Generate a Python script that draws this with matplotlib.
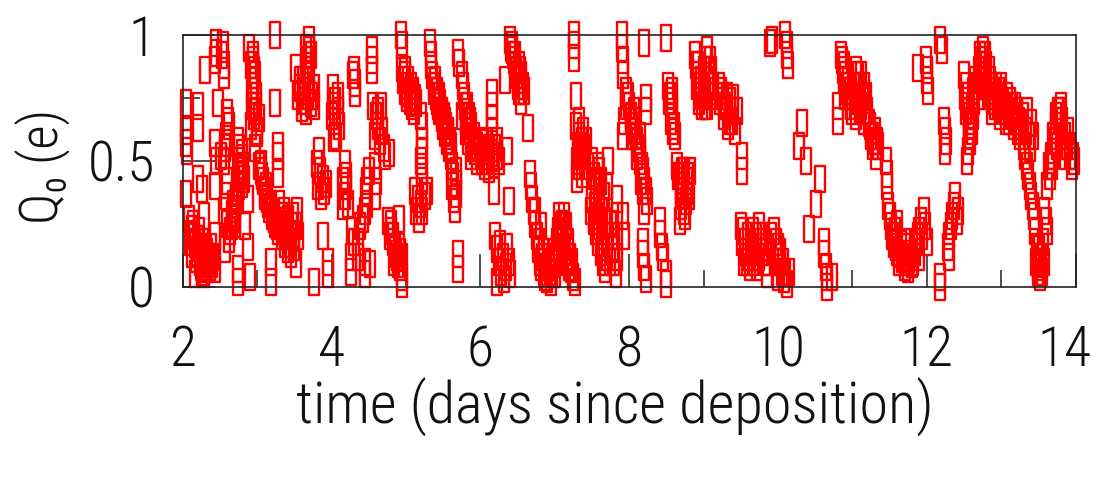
import numpy as np
import matplotlib.pyplot as plt
from matplotlib.path import Path
from matplotlib.ticker import MultipleLocator, FixedLocator
from matplotlib.transforms import ScaledTranslation

plt.rcParams['font.family'] = ['Roboto Condensed', 'DejaVu Sans']
plt.rcParams['font.weight'] = 'light'
plt.rcParams['axes.labelweight'] = 'light'
plt.rcParams['font.stretch'] = 'condensed'

# (time in days, Q0 in e), grouped by time span
pts_2_4 = [
    (2.05,0.73),(2.20,0.72),(2.20,0.63),(2.05,0.62),(2.05,0.57),(2.06,0.54),(2.05,0.37),
    (2.20,0.43),(2.26,0.39),(2.43,0.40),(2.28,0.28),(2.43,0.20),(2.57,0.15),
    (2.08,0.27),(2.12,0.23),(2.10,0.18),(2.15,0.20),(2.20,0.16),(2.25,0.13),(2.30,0.10),
    (2.32,0.07),(2.28,0.05),(2.36,0.08),(2.40,0.12),(2.38,0.16),(2.22,0.22),(2.18,0.11),
    (2.25,0.08),(2.17,0.05),(2.43,0.07),(2.14,0.25),(2.27,0.18),(2.33,0.14),(2.21,0.19),(2.35,0.11),
    (2.11,0.21),(2.19,0.14),(2.23,0.10),(2.29,0.12),(2.34,0.09),(2.31,0.16),(2.16,0.17),(2.26,0.06),
    (2.39,0.09),(2.13,0.13),
    (2.44,0.97),(2.54,0.96),(2.43,0.90),(2.55,0.88),(2.55,0.84),(2.30,0.86),(2.45,0.93),(2.53,0.92),
    (2.89,0.95),(2.92,0.88),(2.97,0.84),(2.95,0.80),(2.98,0.76),(2.93,0.72),(2.96,0.68),(2.92,0.64),
    (3.00,0.62),(2.97,0.55),(3.03,0.67),(3.00,0.61),(2.94,0.90),(2.96,0.86),(2.93,0.78),(2.99,0.72),
    (2.95,0.92),(2.94,0.82),(2.97,0.70),(2.95,0.74),
    (3.24,1.00),(3.24,0.73),
    (3.70,0.98),(3.70,0.94),(3.68,0.90),(3.66,0.86),(3.62,0.82),(3.58,0.79),(3.55,0.76),(3.62,0.74),
    (3.66,0.70),(3.72,0.73),(3.70,0.80),(3.52,0.87),(3.76,0.79),(3.76,0.72),(3.60,0.71),(3.72,0.92),
    (3.64,0.78),(3.68,0.76),(3.66,0.95),(3.68,0.82),(3.64,0.74),(3.70,0.86),(3.74,0.76),(3.57,0.82),
    (2.47,0.73),(2.60,0.69),(2.62,0.64),(2.58,0.60),(2.57,0.55),(2.55,0.50),(2.52,0.52),(2.43,0.57),
    (2.45,0.50),(2.61,0.66),(2.59,0.57),
    (2.74,0.58),(2.76,0.55),(2.80,0.51),(2.78,0.47),(2.82,0.43),(2.75,0.40),(2.72,0.36),(2.68,0.33),
    (2.66,0.29),(2.70,0.25),(2.64,0.22),(2.62,0.19),(2.79,0.53),(2.81,0.48),(2.77,0.44),(2.73,0.38),
    (2.70,0.31),(2.60,0.42),(2.58,0.36),(2.56,0.30),(2.60,0.25),(2.87,0.35),(2.84,0.24),
    (2.76,0.50),(2.74,0.46),(2.79,0.41),(2.71,0.34),(2.68,0.27),(2.66,0.24),
    (2.74,0.02),(2.74,0.07),(2.90,0.04),(2.88,0.16),
    (3.05,0.49),(3.05,0.46),(3.08,0.42),(3.10,0.38),(3.13,0.35),(3.16,0.31),(3.20,0.28),(3.24,0.25),
    (3.28,0.22),(3.33,0.20),(3.38,0.17),(3.42,0.15),(3.45,0.13),(3.07,0.44),(3.12,0.40),(3.18,0.33),
    (3.22,0.27),(3.30,0.33),(3.36,0.30),(3.42,0.27),(3.48,0.28),(3.52,0.24),(3.55,0.20),(3.50,0.16),
    (3.45,0.20),(3.33,0.28),(3.40,0.23),(3.47,0.24),(3.53,0.30),
    (3.03,0.48),(3.10,0.36),(3.15,0.33),(3.20,0.30),(3.26,0.24),(3.31,0.25),(3.35,0.22),(3.39,0.20),
    (3.44,0.17),(3.49,0.21),(3.38,0.26),
    (3.28,0.56),(3.28,0.52),(3.28,0.45),(3.52,0.09),(3.18,0.10),(3.18,0.02),(3.76,0.02),
    (3.83,0.54),(3.80,0.49),(3.84,0.46),(3.88,0.43),(3.82,0.40),(3.90,0.38),(3.86,0.36),(3.93,0.41),
    (3.88,0.20),(3.95,0.10),(3.95,0.05),
]

pts_4_6 = [
    (4.02,0.79),(4.05,0.74),(4.08,0.70),(4.05,0.66),(4.00,0.68),(4.10,0.64),(4.06,0.60),(4.03,0.59),
    (4.02,0.72),(4.09,0.76),
    (4.30,0.86),(4.31,0.81),(4.31,0.77),(4.29,0.84),
    (4.54,0.94),(4.54,0.90),(4.54,0.86),
    (4.93,1.00),(4.95,0.96),
    (4.95,0.87),(4.98,0.84),(5.00,0.80),(5.05,0.78),(5.10,0.76),(5.13,0.73),(5.08,0.72),(5.02,0.75),
    (4.98,0.78),(4.96,0.82),(5.03,0.82),(5.07,0.80),(5.11,0.70),
    (4.99,0.86),(5.01,0.77),(5.06,0.74),(5.09,0.78),(5.12,0.75),
    (5.32,0.97),(5.33,0.92),(5.34,0.88),
    (5.35,0.84),(5.38,0.80),(5.40,0.76),(5.43,0.72),(5.45,0.70),(5.48,0.67),(5.50,0.64),(5.53,0.61),
    (5.55,0.58),(5.58,0.55),(5.60,0.52),(5.62,0.48),(5.63,0.44),(5.37,0.78),(5.42,0.74),(5.47,0.70),
    (5.52,0.66),(5.57,0.60),(5.61,0.56),
    (5.39,0.82),(5.41,0.78),(5.44,0.76),(5.46,0.73),(5.49,0.70),(5.51,0.68),(5.54,0.64),(5.56,0.62),
    (5.59,0.58),
    (5.67,0.46),(5.67,0.41),(5.67,0.37),(5.62,0.40),(5.64,0.35),(5.66,0.31),
    (5.70,0.13),(5.70,0.07),(5.70,0.93),(5.71,0.89),
    (5.78,0.76),(5.82,0.72),(5.85,0.68),(5.88,0.64),(5.92,0.60),(5.95,0.56),(5.90,0.55),(5.80,0.62),
    (5.75,0.68),(5.75,0.84),(5.77,0.80),(5.84,0.58),(5.88,0.52),(5.96,0.50),(5.86,0.62),(5.80,0.66),
    (5.82,0.68),(5.86,0.66),(5.90,0.58),(5.93,0.54),(5.79,0.72),(5.83,0.64),
    (4.55,0.72),(4.60,0.68),(4.66,0.72),(4.62,0.64),(4.58,0.60),(4.65,0.58),(4.70,0.55),(4.72,0.52),
    (4.77,0.53),(4.63,0.70),(4.68,0.62),
    (4.58,0.48),(4.60,0.42),(4.58,0.36),
    (4.50,0.46),(4.48,0.42),(4.46,0.38),(4.48,0.33),(4.45,0.30),(4.42,0.27),
    (4.18,0.49),(4.15,0.42),(4.20,0.40),(4.18,0.36),(4.22,0.33),(4.15,0.32),(4.20,0.44),
    (4.28,0.22),(4.30,0.18),(4.26,0.12),(4.26,0.06),(4.38,0.24),(4.36,0.18),(4.36,0.12),(4.45,0.10),
    (4.45,0.05),(4.51,0.09),
    (4.76,0.26),(4.80,0.22),(4.82,0.18),(4.85,0.15),(4.88,0.12),(4.92,0.08),(4.95,0.04),(4.95,0.01),
    (4.90,0.27),(4.78,0.20),(4.84,0.10),(4.90,0.16),(4.94,0.12),
    (4.80,0.25),(4.83,0.20),(4.86,0.13),(4.89,0.09),(4.92,0.14),
    (5.12,0.38),(5.16,0.35),(5.20,0.33),(5.25,0.36),(5.28,0.38),(5.22,0.30),(5.14,0.30),(5.18,0.27),
    (5.20,0.68),(5.21,0.64),(5.21,0.58),(5.22,0.54),(5.20,0.50),(5.22,0.46),(5.22,0.42),
]

pts_6_8 = [
    (6.00,0.55),(6.05,0.52),(6.10,0.50),(6.15,0.53),(6.08,0.58),(6.20,0.55),(6.22,0.58),(6.25,0.50),
    (6.02,0.50),(6.12,0.47),(6.18,0.49),
    (6.03,0.57),(6.07,0.54),(6.12,0.55),(6.17,0.51),(6.22,0.52),(6.06,0.48),
    (6.15,0.77),(6.15,0.72),(6.16,0.67),(6.15,0.62),
    (6.40,0.98),(6.42,0.94),(6.45,0.90),(6.48,0.86),(6.50,0.82),(6.52,0.78),(6.55,0.74),(6.58,0.78),
    (6.55,0.84),(6.43,0.96),(6.47,0.92),(6.52,0.88),(6.57,0.80),
    (6.44,0.92),(6.46,0.88),(6.49,0.84),(6.51,0.80),(6.54,0.78),(6.53,0.86),(6.41,0.95),
    (6.33,0.82),(6.64,0.63),(6.36,0.54),(6.18,0.38),(6.39,0.34),
    (6.20,0.20),(6.22,0.15),(6.25,0.10),(6.28,0.06),(6.32,0.03),(6.30,0.12),(6.36,0.16),(6.38,0.10),
    (6.22,0.02),(6.40,0.05),(6.27,0.17),(6.34,0.08),
    (7.26,1.00),(7.26,0.96),(7.26,0.91),(7.28,0.76),
    (6.67,0.45),(6.68,0.40),(6.70,0.35),(6.72,0.30),(6.74,0.25),(6.76,0.20),(6.78,0.15),(6.80,0.10),
    (6.85,0.06),(6.90,0.03),(6.95,0.02),(7.00,0.05),(7.02,0.10),(7.05,0.15),(7.08,0.20),(7.10,0.25),
    (7.12,0.28),(7.15,0.24),(7.18,0.18),(7.20,0.12),(7.22,0.07),(7.25,0.04),(7.05,0.28),(7.27,0.02),
    (6.81,0.24),(6.83,0.12),(6.88,0.08),(6.93,0.06),(6.98,0.09),(7.04,0.22),(7.13,0.16),(7.17,0.10),
    (6.86,0.14),(6.97,0.14),
    (6.82,0.08),(6.87,0.04),(6.92,0.08),(6.96,0.05),(7.00,0.12),(7.03,0.18),(7.07,0.24),(7.11,0.20),
    (7.14,0.14),(7.19,0.08),(7.23,0.10),(6.79,0.18),(6.74,0.30),(7.09,0.11),
    (7.28,0.64),(7.32,0.60),(7.35,0.56),(7.38,0.52),(7.40,0.48),(7.36,0.45),(7.30,0.50),(7.42,0.58),
    (7.30,0.43),(7.33,0.66),(7.38,0.62),
    (7.31,0.56),(7.34,0.52),(7.37,0.58),(7.33,0.48),(7.39,0.55),
    (7.50,0.50),(7.52,0.44),(7.55,0.38),(7.50,0.35),(7.48,0.30),(7.52,0.26),(7.56,0.22),(7.58,0.18),
    (7.62,0.14),(7.65,0.10),(7.68,0.07),(7.72,0.20),(7.75,0.25),(7.78,0.15),(7.80,0.10),(7.82,0.05),
    (7.64,0.30),(7.60,0.35),(7.62,0.42),(7.58,0.48),(7.71,0.50),(7.84,0.35),(7.84,0.28),(7.84,0.20),
    (7.84,0.12),(7.70,0.40),
    (7.54,0.32),(7.57,0.28),(7.60,0.24),(7.63,0.20),(7.66,0.16),(7.70,0.12),(7.74,0.10),(7.77,0.20),
    (7.80,0.16),(7.56,0.42),(7.60,0.46),(7.66,0.36),(7.68,0.26),
    (7.90,1.00),(7.90,0.95),(7.91,0.90),(7.92,0.84),(7.95,0.78),(7.95,0.72),(7.93,0.66),(7.92,0.60),
]

pts_8_10 = [
    (8.20,0.97),(8.49,0.99),(8.22,0.75),(8.22,0.70),
    (8.00,0.72),(8.02,0.68),(8.05,0.64),(8.08,0.62),(8.10,0.58),(8.12,0.55),(8.15,0.50),(8.18,0.46),
    (8.20,0.42),(8.22,0.38),(8.24,0.34),(8.20,0.30),(7.98,0.76),(8.06,0.70),(8.04,0.60),(8.14,0.60),
    (8.16,0.42),
    (8.03,0.66),(8.07,0.66),(8.09,0.60),(8.11,0.52),(8.14,0.54),(8.17,0.48),(8.19,0.38),
    (8.52,0.80),(8.55,0.76),(8.57,0.72),(8.58,0.68),(8.60,0.64),(8.62,0.60),(8.56,0.66),
    (8.53,0.74),(8.57,0.78),(8.59,0.62),
    (8.88,0.92),(8.90,0.88),(8.92,0.84),(8.95,0.80),(8.96,0.76),(8.98,0.72),(9.05,0.94),(9.08,0.90),
    (9.10,0.86),(9.06,0.82),(9.08,0.76),(9.05,0.72),(9.12,0.80),(9.00,0.86),(8.94,0.74),(9.02,0.78),
    (8.91,0.80),(8.93,0.88),(8.97,0.82),(9.00,0.76),(9.03,0.90),(9.07,0.86),(9.10,0.78),(9.02,0.72),
    (9.20,0.80),(9.25,0.76),(9.30,0.72),(9.35,0.70),(9.38,0.66),(9.33,0.64),(9.40,0.75),(9.45,0.70),
    (9.42,0.62),(9.22,0.74),(9.28,0.68),
    (9.23,0.78),(9.27,0.72),(9.31,0.76),(9.36,0.74),(9.40,0.70),(9.35,0.66),
    (9.51,0.52),(9.51,0.46),
    (8.64,0.48),(8.68,0.44),(8.70,0.40),(8.72,0.36),(8.70,0.32),(8.75,0.28),(8.78,0.42),(8.82,0.46),
    (8.80,0.36),(8.68,0.26),(8.74,0.46),(8.76,0.34),
    (8.66,0.44),(8.69,0.38),(8.71,0.46),(8.73,0.30),(8.77,0.38),(8.79,0.44),(8.72,0.42),
    (8.41,0.26),(8.42,0.21),(8.44,0.16),(8.45,0.12),
    (8.18,0.18),(8.18,0.13),(8.20,0.08),(8.22,0.03),
    (8.49,0.05),(8.50,0.01),
    (7.92,0.28),(7.93,0.20),
    (9.50,0.24),(9.52,0.18),(9.55,0.14),(9.58,0.10),(9.62,0.08),(9.65,0.14),(9.70,0.20),(9.68,0.12),
    (9.72,0.08),(9.78,0.14),(9.82,0.10),(9.85,0.05),(9.75,0.24),(9.90,0.20),(9.60,0.20),(9.80,0.20),
    (9.53,0.22),(9.56,0.18),(9.60,0.12),(9.63,0.16),(9.66,0.10),(9.70,0.16),(9.74,0.12),(9.76,0.18),
    (9.80,0.14),(9.84,0.16),(9.87,0.10),(9.54,0.10),(9.66,0.22),
    (9.89,0.97),(9.92,0.98),
]

pts_10_12 = [
    (10.10,1.00),(10.12,0.96),(10.12,0.92),(10.14,0.88),
    (10.32,0.65),(10.28,0.56),(10.37,0.50),(10.57,0.43),(10.51,0.33),(10.42,0.23),
    (10.62,0.18),(10.62,0.13),(10.64,0.08),(10.66,0.04),(10.66,0.00),(10.72,0.04),
    (9.95,0.22),(10.00,0.16),(10.02,0.10),(10.05,0.06),(10.08,0.03),(10.12,0.01),(10.00,0.04),
    (10.15,0.06),(9.98,0.10),(10.03,0.14),(10.06,0.10),(10.10,0.06),(9.97,0.18),
    (10.80,0.72),(10.80,0.66),
    (10.85,0.92),(10.88,0.88),(10.90,0.84),(10.92,0.80),(10.95,0.76),(10.98,0.72),(11.00,0.70),
    (11.05,0.68),(11.10,0.76),(11.12,0.72),(11.15,0.80),(11.18,0.76),(11.20,0.70),(11.08,0.84),
    (10.90,0.76),(10.87,0.86),(11.02,0.80),(11.05,0.86),(11.12,0.84),
    (10.88,0.82),(10.91,0.78),(10.94,0.82),(10.97,0.78),(11.00,0.76),(11.03,0.72),(11.07,0.74),
    (11.10,0.70),(11.14,0.76),(11.17,0.70),(10.86,0.90),(11.09,0.80),(11.16,0.66),
    (11.22,0.65),(11.25,0.60),(11.28,0.56),(11.32,0.52),(11.35,0.56),(11.30,0.62),
    (11.24,0.64),(11.27,0.60),(11.29,0.58),(11.33,0.58),
    (11.45,0.50),(11.46,0.45),(11.47,0.40),
    (11.48,0.32),(11.50,0.28),(11.52,0.24),(11.55,0.20),(11.58,0.16),(11.62,0.13),(11.66,0.11),
    (11.70,0.08),(11.75,0.07),(11.80,0.09),(11.84,0.14),(11.88,0.20),(11.92,0.26),(11.96,0.30),
    (11.90,0.12),(11.60,0.25),(11.70,0.18),(11.65,0.17),(11.78,0.13),
    (11.53,0.20),(11.56,0.17),(11.60,0.14),(11.63,0.10),(11.68,0.12),(11.72,0.10),(11.76,0.11),
    (11.82,0.10),(11.86,0.18),(11.90,0.22),(11.94,0.20),(11.57,0.22),(11.73,0.16),
    (11.88,0.87),(11.98,0.24),(12.00,0.18),
]

pts_12_14 = [
    (12.18,0.98),(12.20,0.94),
    (11.99,0.90),(12.00,0.86),(12.00,0.82),(12.02,0.78),
    (12.23,0.66),(12.24,0.62),(12.26,0.58),(12.25,0.54),
    (12.38,0.36),(12.36,0.32),(12.34,0.28),(12.32,0.24),(12.30,0.20),(12.28,0.16),(12.30,0.12),
    (12.40,0.26),(12.42,0.30),
    (12.17,0.04),(12.17,0.00),
    (12.50,0.84),(12.52,0.80),(12.55,0.76),(12.53,0.70),(12.56,0.64),(12.58,0.58),(12.55,0.54),
    (12.54,0.50),(12.51,0.76),(12.54,0.72),(12.56,0.68),(12.57,0.60),(12.60,0.62),(12.62,0.68),
    (12.72,0.92),(12.75,0.94),(12.78,0.92),(12.80,0.88),(12.70,0.86),(12.65,0.82),(12.62,0.78),
    (12.60,0.72),(12.58,0.66),
    (12.74,0.90),(12.77,0.88),(12.73,0.82),(12.68,0.80),(12.64,0.74),(12.70,0.76),
    (12.85,0.82),(12.90,0.78),(12.95,0.76),(13.00,0.80),(13.02,0.74),(13.05,0.72),(13.10,0.70),
    (13.15,0.68),(13.20,0.66),(13.22,0.62),(13.25,0.60),(13.30,0.56),(13.08,0.76),(12.92,0.72),
    (12.98,0.68),(12.82,0.76),(12.88,0.70),(13.12,0.74),(13.18,0.72),(12.76,0.84),
    (12.84,0.86),(12.87,0.80),(12.90,0.74),(12.93,0.80),(12.96,0.72),(13.00,0.74),(13.03,0.70),
    (13.06,0.66),(13.11,0.66),(13.14,0.72),(13.17,0.64),(13.21,0.70),(13.24,0.66),(13.27,0.62),
    (13.29,0.68),(13.33,0.62),(13.37,0.60),(12.80,0.80),(12.86,0.76),(12.97,0.78),
    (13.35,0.70),(13.40,0.65),(13.42,0.60),(13.38,0.55),
    (13.32,0.52),(13.35,0.48),(13.36,0.44),(13.38,0.40),(13.40,0.36),(13.42,0.32),
    (13.44,0.28),(13.46,0.22),(13.48,0.16),(13.50,0.12),(13.50,0.08),(13.52,0.04),(13.55,0.06),
    (13.54,0.12),(13.56,0.18),
    (13.47,0.10),(13.49,0.06),(13.53,0.09),(13.51,0.15),(13.57,0.10),
    (13.58,0.30),(13.60,0.26),(13.62,0.22),
    (13.62,0.40),(13.65,0.44),(13.68,0.48),(13.70,0.52),(13.72,0.58),(13.74,0.64),(13.76,0.70),
    (13.80,0.72),(13.82,0.66),(13.85,0.60),(13.88,0.56),(13.92,0.52),(13.95,0.48),(13.98,0.50),
    (13.90,0.62),
    (13.70,0.60),(13.73,0.68),(13.78,0.66),(13.80,0.60),(13.83,0.56),(13.86,0.52),(13.75,0.56),
    (13.67,0.52),(13.64,0.48),(13.93,0.56),(13.96,0.52),(13.79,0.70),
]

pts = np.array(pts_2_4 + pts_4_6 + pts_6_8 + pts_8_10 + pts_10_12 + pts_12_14)
t = pts[:, 0]
q0 = pts[:, 1]

# tall narrow open box marker
box = Path([(-0.4, -1), (0.4, -1), (0.4, 1), (-0.4, 1), (-0.4, -1)],
           [Path.MOVETO, Path.LINETO, Path.LINETO, Path.LINETO, Path.CLOSEPOLY])

fig = plt.figure(figsize=(11.01, 4.82), dpi=100)
ax = fig.add_axes([0.166, 0.405, 0.811, 0.522])

ax.plot(t, q0, ls='none', marker=box, ms=19, mfc='none', mec='#ff0000',
        mew=1.7, clip_on=False)

ax.set_xlim(2, 14)
ax.set_ylim(0, 1)
ax.set_xticks(range(2, 15, 2))
ax.xaxis.set_minor_locator(MultipleLocator(1))
ax.set_yticks([0, 0.5, 1])
ax.set_yticklabels(['0', '0.5', '1'])
ax.yaxis.set_minor_locator(FixedLocator([0.25, 0.75]))

for s in ax.spines.values():
    s.set_linewidth(1.2)
    s.set_color('#222222')

ax.tick_params(which='both', direction='in', top=False, right=False,
               color='#222222', width=1.1, labelsize=40, labelcolor='#111111')
ax.tick_params(axis='x', which='major', length=24, pad=27)
ax.tick_params(axis='x', which='minor', length=12)
ax.tick_params(axis='y', which='major', length=23, pad=20)
ax.tick_params(axis='y', which='minor', length=12)

# nudge the last x label in so it stays inside the picture
last = ax.xaxis.get_major_ticks()[-1].label1
last.set_transform(last.get_transform() + ScaledTranslation(-8 / 72, 0, fig.dpi_scale_trans))

ax.set_xlabel('time (days since deposition)', fontsize=42, fontweight='light',
              color='#111111')
ax.xaxis.set_label_coords(0.484, -0.36)
ax.set_ylabel('Q\u2080 (e)', fontsize=38, fontweight='light', color='#111111')
ax.yaxis.set_label_coords(-0.125, 0.48)

fig.savefig('out.png', dpi=100)
